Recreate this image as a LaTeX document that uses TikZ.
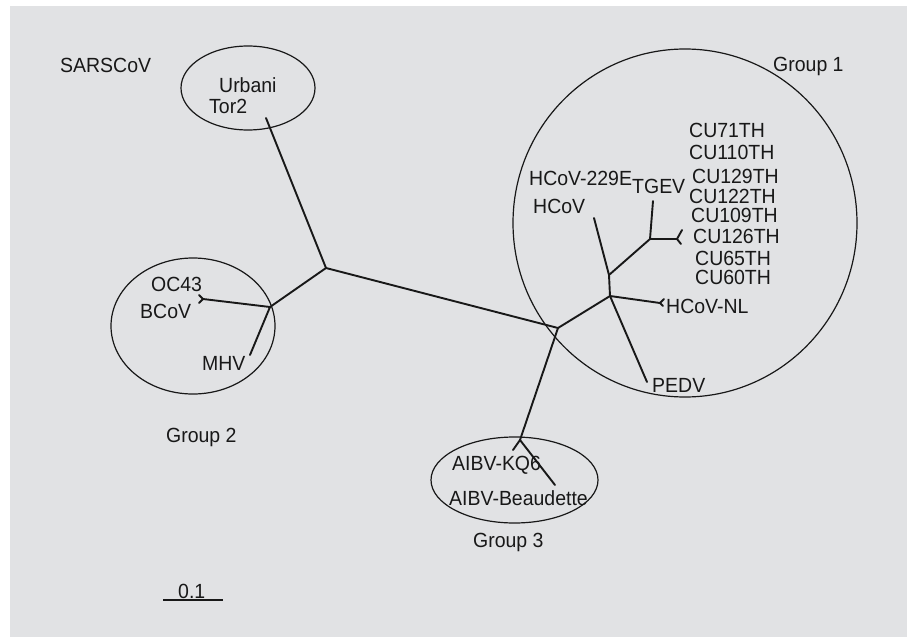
\documentclass[tikz,border=0pt]{standalone}
\usepackage{fontspec}
\setmainfont{Liberation Sans}[FakeStretch=0.95]
\usetikzlibrary{shapes.geometric}
\definecolor{bg}{RGB}{225,226,228}
\definecolor{ink}{RGB}{24,24,24}
\begin{document}
\begin{tikzpicture}[x=1pt,y=-1pt,
  lbl/.style={anchor=base west,inner sep=0pt,font=\fontsize{20.5}{23}\selectfont,text=ink},
  branch/.style={draw=ink,line width=1.9pt,line cap=round,line join=round},
  grp/.style={draw=ink,line width=1.2pt,ellipse,inner sep=0pt}]
\useasboundingbox (0,0) rectangle (907,637);
\fill[white] (0,0) rectangle (907,637);
\fill[bg] (10,6) rectangle (907,637);

% group outlines
\node[grp,minimum width=134pt,minimum height=84pt] (sarsring) at (248,88) {};
\node[grp,minimum width=164pt,minimum height=136pt] (g2ring) at (193,326) {};
\node[grp,minimum width=344pt,minimum height=348pt] (g1ring) at (685,223) {};
\node[grp,minimum width=167pt,minimum height=86pt] (g3ring) at (514.5,480) {};

% tree coordinates
\coordinate (sarsleaf) at (266,118);
\coordinate (nA) at (326,268);
\coordinate (nB) at (558,328);
\coordinate (g2) at (270,307);
\coordinate (ocleaf) at (203,299);
\coordinate (octa) at (199,295);
\coordinate (octb) at (199,303);
\coordinate (mhvleaf) at (250,355);
\coordinate (g3) at (520,440);
\coordinate (kqleaf) at (513,450);
\coordinate (beauleaf) at (555,485);
\coordinate (g1a) at (610,296);
\coordinate (nlleaf) at (660,303);
\coordinate (nlta) at (664,299);
\coordinate (nltb) at (663,306);
\coordinate (pedvleaf) at (647,382);
\coordinate (g1b) at (609,275);
\coordinate (hcovleaf) at (594,218);
\coordinate (g1c) at (650,239);
\coordinate (tgevleaf) at (653,201);
\coordinate (culeaf) at (677,239);
\coordinate (cuta) at (682,230);
\coordinate (cutb) at (681,244);

% branches
\draw[branch] (sarsleaf) -- (nA);
\draw[branch] (nA) -- (nB);
\draw[branch] (nA) -- (g2);
\draw[branch] (g2) -- (ocleaf);
\draw[branch] (octa) -- (ocleaf) -- (octb);
\draw[branch] (g2) -- (mhvleaf);
\draw[branch] (nB) -- (g3);
\draw[branch] (g3) -- (kqleaf);
\draw[branch] (g3) -- (beauleaf);
\draw[branch] (nB) -- (g1a);
\draw[branch] (g1a) -- (nlleaf);
\draw[branch] (nlta) -- (nlleaf) -- (nltb);
\draw[branch] (g1a) -- (pedvleaf);
\draw[branch] (g1a) -- (g1b);
\draw[branch] (g1b) -- (hcovleaf);
\draw[branch] (g1b) -- (g1c);
\draw[branch] (g1c) -- (tgevleaf);
\draw[branch] (g1c) -- (culeaf);
\draw[branch] (cuta) -- (culeaf) -- (cutb);

% labels
\node[lbl] (sars) at (60,72) {SARSCoV};
\node[lbl] (urbani) at (219,92) {Urbani};
\node[lbl] (tor2) at (209,113) {Tor2};
\node[lbl] (oc43) at (151,291) {OC43};
\node[lbl] (bcov) at (140,318) {BCoV};
\node[lbl] (mhv) at (202,370) {MHV};
\node[lbl] (grp2) at (166,442) {Group 2};
\node[lbl] (grp1) at (773,71) {Group 1};
\node[lbl] (grp3) at (473,547) {Group 3};
\node[lbl] (h229) at (529,185) {HCoV-229E};
\node[lbl] (tgev) at (632,193) {TGEV};
\node[lbl] (hcov) at (533,213) {HCoV};
\node[lbl] (cu71) at (689,137) {CU71TH};
\node[lbl] (cu110) at (689,159) {CU110TH};
\node[lbl] (cu129) at (692,183) {CU129TH};
\node[lbl] (cu122) at (689,203) {CU122TH};
\node[lbl] (cu109) at (691,222) {CU109TH};
\node[lbl] (cu126) at (693,243) {CU126TH};
\node[lbl] (cu65) at (695,265) {CU65TH};
\node[lbl] (cu60) at (695,284) {CU60TH};
\node[lbl] (hcovnl) at (666,313) {HCoV-NL};
\node[lbl] (pedv) at (652,392) {PEDV};
\node[lbl] (kq6) at (452,470) {AIBV-KQ6};
\node[lbl] (beau) at (449,505) {AIBV-Beaudette};

% scale bar
\node[lbl] (scale) at (178,598) {0.1};
\coordinate (sbl) at (163,600);
\coordinate (sbr) at (223,600);
\draw[draw=ink,line width=1.4pt] (sbl) -- (sbr);
\end{tikzpicture}
\end{document}
